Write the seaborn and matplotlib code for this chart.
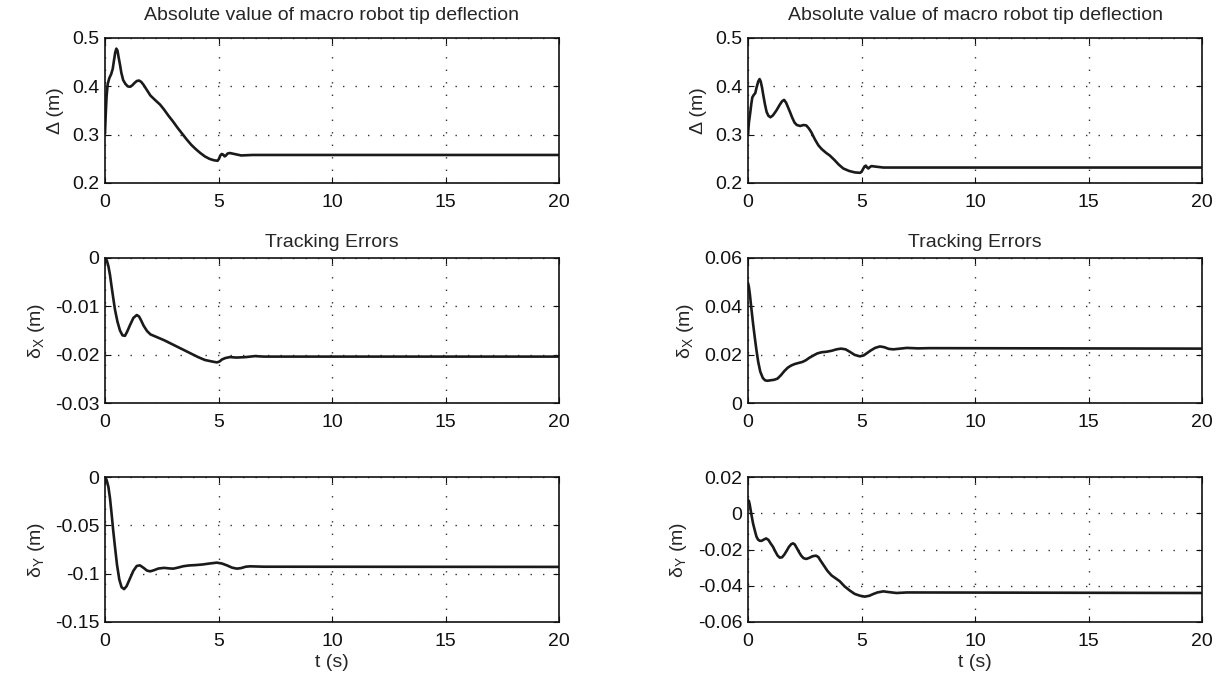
import numpy as np
import pandas as pd
import seaborn as sns
import matplotlib.pyplot as plt

# left column: macro robot tip deflection and tracking errors
t_d1 = [0, 0.03, 0.07, 0.12, 0.19, 0.27, 0.34, 0.4, 0.45, 0.5, 0.55, 0.6, 0.66, 0.72, 0.8, 0.9,
        1.0, 1.1, 1.2, 1.3, 1.4, 1.5, 1.6, 1.7, 1.85, 2.0, 2.2, 2.43, 2.6, 2.8, 3.0, 3.2, 3.4,
        3.6, 3.8, 4.0, 4.2, 4.4, 4.6, 4.8, 4.96, 5.02, 5.08, 5.14, 5.2, 5.27, 5.33, 5.4, 5.5,
        5.7, 6.0, 6.5, 20]
d1 = [0.303, 0.34, 0.38, 0.405, 0.417, 0.425, 0.436, 0.455, 0.47, 0.478, 0.474, 0.46, 0.445,
      0.428, 0.413, 0.405, 0.4, 0.399, 0.402, 0.407, 0.411, 0.412, 0.409, 0.403, 0.392, 0.381,
      0.372, 0.362, 0.352, 0.339, 0.327, 0.314, 0.302, 0.29, 0.279, 0.27, 0.262, 0.255, 0.25,
      0.247, 0.246, 0.25, 0.257, 0.26, 0.259, 0.255, 0.257, 0.261, 0.262, 0.26, 0.257, 0.258,
      0.258]

t_x1 = [0, 0.08, 0.15, 0.22, 0.29, 0.37, 0.44, 0.55, 0.66, 0.77, 0.88, 0.98, 1.1, 1.25, 1.4,
        1.5, 1.6, 1.7, 1.85, 2.0, 2.2, 2.4, 2.6, 2.9, 3.2, 3.5, 3.8, 4.1, 4.4, 4.7, 4.93, 5.05,
        5.15, 5.3, 5.5, 5.8, 6.2, 6.6, 7, 20]
x1 = [0, -0.0005, -0.0017, -0.0035, -0.0059, -0.0085, -0.0107, -0.0132, -0.015, -0.016,
      -0.0161, -0.0152, -0.0139, -0.0124, -0.0118, -0.0121, -0.013, -0.014, -0.0151, -0.0158,
      -0.0162, -0.0166, -0.017, -0.0177, -0.0184, -0.0191, -0.0198, -0.0205, -0.0211, -0.0214,
      -0.0216, -0.0214, -0.021, -0.0207, -0.0205, -0.0206, -0.0205, -0.0203, -0.0204, -0.0204]

t_y1 = [0, 0.07, 0.15, 0.22, 0.29, 0.36, 0.44, 0.53, 0.63, 0.73, 0.84, 0.95, 1.1, 1.25, 1.4,
        1.54, 1.7, 1.85, 1.99, 2.15, 2.35, 2.6, 2.85, 3.01, 3.2, 3.45, 3.7, 4.0, 4.3, 4.6, 4.93,
        5.15, 5.37, 5.6, 5.81, 6.0, 6.2, 6.4, 7, 20]
y1 = [0, -0.003, -0.0103, -0.022, -0.0379, -0.055, -0.0724, -0.091, -0.106, -0.114, -0.116,
      -0.113, -0.105, -0.097, -0.092, -0.0914, -0.094, -0.0968, -0.0976, -0.0965, -0.0947,
      -0.094, -0.0946, -0.0948, -0.0938, -0.0923, -0.0915, -0.0911, -0.0905, -0.0895, -0.0886,
      -0.0895, -0.0914, -0.0938, -0.0948, -0.0942, -0.0928, -0.0924, -0.0928, -0.093]

# right column
t_d2 = [0, 0.04, 0.1, 0.15, 0.19, 0.25, 0.32, 0.38, 0.45, 0.51, 0.56, 0.62, 0.68, 0.75, 0.82,
        0.9, 0.99, 1.1, 1.25, 1.4, 1.5, 1.59, 1.68, 1.76, 1.84, 1.95, 2.05, 2.15, 2.3, 2.45,
        2.57, 2.68, 2.79, 2.95, 3.1, 3.25, 3.45, 3.6, 3.8, 4.0, 4.2, 4.45, 4.7, 4.93, 5.0, 5.07,
        5.13, 5.19, 5.25, 5.3, 5.37, 5.44, 5.6, 5.96, 20]
d2 = [0.3, 0.325, 0.346, 0.365, 0.377, 0.382, 0.386, 0.398, 0.41, 0.415, 0.41, 0.397, 0.38,
      0.362, 0.347, 0.339, 0.336, 0.34, 0.35, 0.362, 0.369, 0.372, 0.366, 0.357, 0.348, 0.335,
      0.325, 0.32, 0.318, 0.32, 0.319, 0.313, 0.305, 0.29, 0.278, 0.27, 0.262, 0.257, 0.248,
      0.238, 0.23, 0.225, 0.222, 0.221, 0.223, 0.229, 0.234, 0.236, 0.232, 0.23, 0.233, 0.235,
      0.234, 0.232, 0.232]

t_x2 = [0, 0.04, 0.08, 0.15, 0.22, 0.3, 0.37, 0.45, 0.54, 0.65, 0.75, 0.85, 1.0, 1.15, 1.3,
        1.45, 1.6, 1.75, 1.9, 2.05, 2.2, 2.4, 2.55, 2.7, 2.87, 3.05, 3.24, 3.45, 3.68, 3.9, 4.1,
        4.3, 4.5, 4.7, 4.93, 5.1, 5.25, 5.4, 5.6, 5.81, 6.0, 6.2, 6.4, 6.7, 7.0, 7.5, 8, 20]
x2 = [0.0497, 0.048, 0.0452, 0.039, 0.0331, 0.027, 0.022, 0.017, 0.013, 0.0104, 0.0094, 0.0092,
      0.0094, 0.0096, 0.0101, 0.0115, 0.0132, 0.0146, 0.0155, 0.0161, 0.0165, 0.017, 0.0177,
      0.0187, 0.0196, 0.0205, 0.021, 0.0212, 0.0216, 0.0222, 0.0225, 0.0222, 0.0211, 0.0199,
      0.0193, 0.0197, 0.0207, 0.0217, 0.0228, 0.0234, 0.0231, 0.0224, 0.0222, 0.0225, 0.0228,
      0.0226, 0.0227, 0.0225]

t_y2 = [0, 0.04, 0.08, 0.14, 0.22, 0.3, 0.37, 0.44, 0.52, 0.6, 0.7, 0.8, 0.9, 1.0, 1.1, 1.2,
        1.3, 1.4, 1.5, 1.6, 1.7, 1.8, 1.9, 1.98, 2.06, 2.15, 2.25, 2.35, 2.45, 2.57, 2.7, 2.85,
        3.0, 3.1, 3.2, 3.35, 3.5, 3.68, 3.85, 4.04, 4.25, 4.49, 4.7, 4.93, 5.15, 5.35, 5.51,
        5.7, 5.96, 6.2, 6.54, 7.0, 20]
y2 = [0.0073, 0.0068, 0.0045, 0.0, -0.0055, -0.0095, -0.0128, -0.0145, -0.0152, -0.0152,
      -0.0145, -0.0139, -0.0147, -0.0167, -0.0185, -0.021, -0.0233, -0.0245, -0.0243, -0.0228,
      -0.0208, -0.0186, -0.0171, -0.0166, -0.0172, -0.0192, -0.0215, -0.0235, -0.0248, -0.0252,
      -0.0246, -0.0237, -0.0234, -0.0242, -0.0262, -0.029, -0.0318, -0.0343, -0.0358, -0.0375,
      -0.0403, -0.0427, -0.0445, -0.0455, -0.046, -0.0455, -0.0446, -0.0437, -0.0431, -0.0435,
      -0.044, -0.0437, -0.044]

panels = [
    [(t_d1, d1, (0.2, 0.5), [0.2, 0.3, 0.4, 0.5], ['0.2', '0.3', '0.4', '0.5']),
     (t_d2, d2, (0.2, 0.5), [0.2, 0.3, 0.4, 0.5], ['0.2', '0.3', '0.4', '0.5'])],
    [(t_x1, x1, (-0.03, 0), [-0.03, -0.02, -0.01, 0], ['-0.03', '-0.02', '-0.01', '0']),
     (t_x2, x2, (0, 0.06), [0, 0.02, 0.04, 0.06], ['0', '0.02', '0.04', '0.06'])],
    [(t_y1, y1, (-0.15, 0), [-0.15, -0.1, -0.05, 0], ['-0.15', '-0.1', '-0.05', '0']),
     (t_y2, y2, (-0.06, 0.02), [-0.06, -0.04, -0.02, 0, 0.02], ['-0.06', '-0.04', '-0.02', '0', '0.02'])],
]
titles = ['Absolute value of macro robot tip deflection', 'Tracking Errors', None]
title_pads = [13, 8, 0]
ylabels = ['Δ (m)', 'δ$_{\\rm X}$ (m)', 'δ$_{\\rm Y}$ (m)']

sns.set_theme(style='ticks')
plt.rcParams['font.family'] = ['Liberation Sans', 'DejaVu Sans']
plt.rcParams['mathtext.fontset'] = 'custom'
plt.rcParams['mathtext.rm'] = 'Liberation Sans'

W, H = 1227, 680
fig = plt.figure(figsize=(W / 100, H / 100), dpi=100)
lefts = [105, 748]
width = 454
tops = [38, 258, 477]
height = 145

for r in range(3):
    for c in range(2):
        t, v, ylim, yt, ytl = panels[r][c]
        ax = fig.add_axes([lefts[c] / W, 1 - (tops[r] + height) / H, width / W, height / H])
        df = pd.DataFrame({'t': t, 'v': v})
        sns.lineplot(data=df, x='t', y='v', ax=ax, color='#1a1a1a', linewidth=1.9)
        ax.set_xlim(0, 20)
        ax.set_ylim(*ylim)
        ax.set_xticks([0, 5, 10, 15, 20])
        ax.set_xticklabels(['0', '5', '10', '15', '20'])
        ax.set_yticks(yt)
        ax.set_yticklabels(ytl)
        ax.grid(True, linestyle=(0, (1, 8)), color='#333333', linewidth=1.0)
        ax.tick_params(direction='in', top=True, right=True, length=4, width=0.8,
                       labelsize=14, colors='#111111')
        ax.tick_params(axis='x', pad=8)
        ax.tick_params(axis='y', pad=4)
        for s in ax.spines.values():
            s.set_linewidth(1.2)
            s.set_color('#111111')
        ax.set_ylabel(ylabels[r], fontsize=14, labelpad=6)
        if titles[r]:
            ax.set_title(titles[r], fontsize=14, pad=title_pads[r])
        if r == 2:
            ax.set_xlabel('t (s)', fontsize=14, labelpad=3)
        else:
            ax.set_xlabel('')

fig.savefig('out.png', dpi=100, facecolor='white')
